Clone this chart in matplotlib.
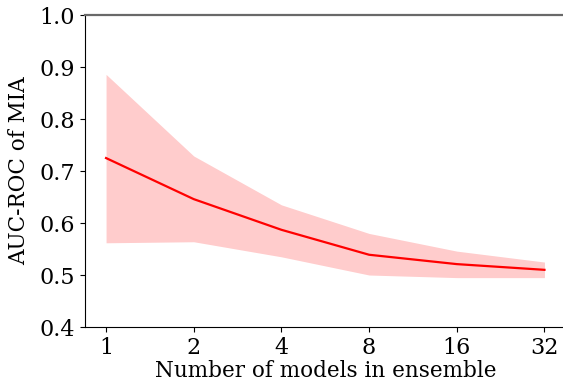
import numpy as np
import matplotlib.pyplot as plt
from matplotlib.ticker import FixedLocator, NullLocator

n_models = [1, 2, 4, 8, 16, 32]
auc_mean = [0.725, 0.646, 0.587, 0.539, 0.521, 0.510]
auc_upper = [0.886, 0.729, 0.635, 0.580, 0.546, 0.525]
auc_lower = [0.562, 0.564, 0.535, 0.500, 0.495, 0.495]

plt.rcParams['font.family'] = 'DejaVu Serif'
plt.rcParams['font.size'] = 16

fig = plt.figure(figsize=(5.63, 3.87), dpi=100)
ax = fig.add_axes([0.151, 0.155, 0.855, 0.806])

ax.fill_between(n_models, auc_lower, auc_upper, color='red', alpha=0.2, linewidth=0)
ax.plot(n_models, auc_mean, color='red', lw=1.6)

ax.set_xscale('log', base=2)
ax.xaxis.set_major_locator(FixedLocator(n_models))
ax.xaxis.set_minor_locator(NullLocator())
ax.set_xticklabels([str(n) for n in n_models])
ax.set_xlim(2 ** -0.24, 32 * 2 ** 0.25)
ax.set_ylim(0.4, 1.0)
ax.set_yticks([0.4, 0.5, 0.6, 0.7, 0.8, 0.9, 1.0])

ax.spines['right'].set_visible(False)
ax.spines['top'].set_color('dimgray')
ax.spines['top'].set_linewidth(1.6)

ax.set_xlabel('Number of models in ensemble', fontsize=15.5, labelpad=1)
ax.set_ylabel('AUC-ROC of MIA', fontsize=15.5, labelpad=7)

fig.savefig('out.png', dpi=100)
